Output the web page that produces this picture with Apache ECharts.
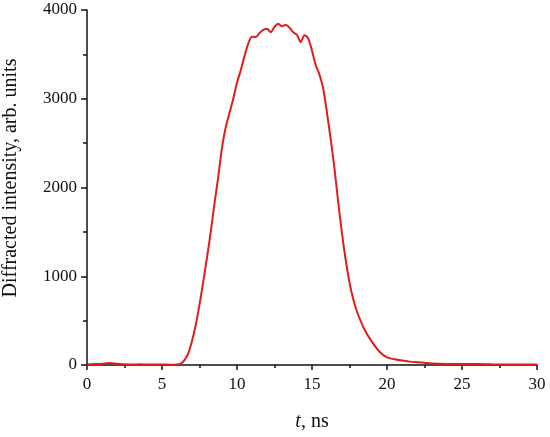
<!DOCTYPE html>
<html>
<head>
<meta charset="utf-8">
<script src="https://cdn.jsdelivr.net/npm/echarts@6/dist/echarts.min.js"></script>
<style>html,body{margin:0;padding:0;background:#fff}#c{width:550px;height:437px}</style>
</head>
<body>
<div id="c"></div>
<script>
const timeNs = [0,0.5,1,1.5,2,2.5,3,3.5,4,4.5,5,5.5,6,6.25,6.5,6.75,7,7.25,7.5,7.75,8,8.25,8.5,8.75,9,9.25,9.5,9.75,10,10.25,10.5,10.75,11,11.25,11.5,11.75,12,12.25,12.5,12.75,13,13.25,13.5,13.75,14,14.25,14.5,14.75,15,15.25,15.5,15.75,16,16.25,16.5,16.75,17,17.25,17.5,17.75,18,18.5,19,19.5,20,20.5,21,21.5,22,23,24,25,26,27,28,29,30];
const intensity = [5,10,15,22,15,8,5,8,5,6,5,4,6,15,55,130,270,450,680,940,1210,1500,1820,2120,2450,2680,2840,3000,3180,3320,3480,3620,3700,3695,3740,3775,3790,3750,3810,3845,3815,3835,3800,3750,3720,3640,3715,3680,3540,3380,3270,3110,2840,2540,2210,1830,1480,1180,930,740,600,400,260,150,85,65,50,38,30,18,12,10,12,8,6,5,5];
const xTicks = [0,5,10,15,20,25,30];
const yTicks = [0,1000,2000,3000,4000];
const yTitle = 'Diffracted intensity, arb. units';

const font = '"Liberation Serif", "Times New Roman", serif';
const chart = echarts.init(document.getElementById('c'), null, {renderer: 'canvas'});
chart.setOption({
  animation: false,
  grid: {left: 87, right: 13, top: 10, bottom: 65},
  graphic: [{
    type: 'text', rotation: Math.PI / 2,
    x: 11, y: 178,
    style: {text: yTitle, font: '20px ' + font, fill: '#111', align: 'center', verticalAlign: 'middle'}
  }],
  xAxis: {
    type: 'value', min: xTicks[0], max: xTicks[xTicks.length-1], interval: 5,
    name: '{i|t}, ns', nameLocation: 'middle', nameGap: 47,
    nameTextStyle: {fontFamily: font, fontSize: 20, color: '#111', rich: {i: {fontFamily: font, fontStyle: 'italic', fontSize: 20, color: '#111'}}},
    axisLine: {show: true, lineStyle: {color: '#111', width: 1.5}},
    axisTick: {show: true, length: 5, lineStyle: {color: '#111', width: 1.5}},
    minorTick: {show: true, splitNumber: 2, length: 3, lineStyle: {color: '#111', width: 1.5}},
    axisLabel: {fontFamily: font, fontSize: 17, color: '#111', margin: 11},
    splitLine: {show: false}
  },
  yAxis: {
    type: 'value', min: yTicks[0], max: yTicks[yTicks.length-1], interval: 1000,
    axisLine: {show: true, lineStyle: {color: '#111', width: 1.5}},
    axisTick: {show: true, length: 6, lineStyle: {color: '#111', width: 1.5}},
    minorTick: {show: true, splitNumber: 2, length: 4, lineStyle: {color: '#111', width: 1.5}},
    axisLabel: {fontFamily: font, fontSize: 17, color: '#111', margin: 10, formatter: v => String(v)},
    splitLine: {show: false}
  },
  series: [{
    type: 'line',
    data: timeNs.map((t, i) => [t, intensity[i]]),
    showSymbol: false,
    smooth: 0.3,
    lineStyle: {color: '#e31a1c', width: 2},
    itemStyle: {color: '#e31a1c'}
  }]
});
</script>
</body>
</html>
